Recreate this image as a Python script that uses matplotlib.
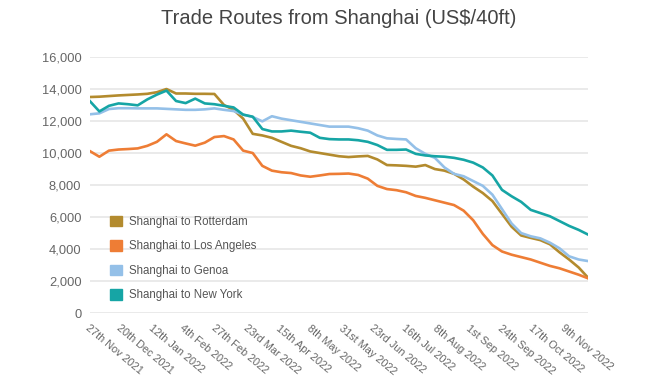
import matplotlib
matplotlib.use('Agg')
import matplotlib.pyplot as plt
from matplotlib.patches import Patch
import pandas as pd

plt.rcParams['font.family'] = ['Liberation Sans', 'DejaVu Sans']

# weekly readings, 27 Nov 2021 -> 26 Nov 2022
dates = pd.date_range('2021-11-27', periods=53, freq='7D')

rotterdam = [13500, 13520, 13560, 13600, 13630, 13660, 13700, 13800, 14000, 13720,
             13720, 13700, 13700, 13690, 13000, 12700, 12150, 11200, 11100, 10950,
             10700, 10450, 10300, 10100, 10000, 9900, 9800, 9750, 9790, 9820,
             9600, 9250, 9230, 9200, 9150, 9250, 9000, 8900, 8700, 8350,
             7900, 7500, 7000, 6200, 5400, 4850, 4700, 4560, 4300, 3800,
             3350, 2850, 2200]
los_angeles = [10125, 9770, 10150, 10220, 10250, 10290, 10450, 10700, 11170, 10750,
               10600, 10460, 10650, 11000, 11060, 10850, 10150, 10000, 9200, 8900,
               8800, 8750, 8600, 8520, 8600, 8690, 8700, 8720, 8630, 8400,
               7950, 7750, 7680, 7550, 7320, 7200, 7050, 6900, 6750, 6400,
               5800, 4950, 4250, 3850, 3650, 3500, 3350, 3150, 2950, 2800,
               2600, 2400, 2170]
genoa = [12420, 12480, 12750, 12800, 12800, 12790, 12790, 12790, 12760, 12730,
         12700, 12700, 12730, 12790, 12700, 12625, 12400, 12250, 11980, 12300,
         12150, 12050, 11950, 11850, 11750, 11650, 11650, 11650, 11550, 11400,
         11100, 10920, 10880, 10850, 10300, 9950, 9700, 9100, 8700, 8550,
         8250, 7950, 7400, 6500, 5600, 5000, 4800, 4670, 4400, 4050,
         3550, 3350, 3250]
new_york = [13250, 12600, 12950, 13100, 13050, 12980, 13350, 13650, 13900, 13250,
            13120, 13400, 13100, 13050, 12950, 12850, 12400, 12270, 11500, 11350,
            11350, 11400, 11330, 11270, 10950, 10870, 10850, 10850, 10800, 10700,
            10500, 10200, 10200, 10220, 9950, 9850, 9800, 9770, 9700, 9580,
            9400, 9100, 8600, 7700, 7300, 6950, 6450, 6250, 6050, 5750,
            5450, 5200, 4900]

tick_dates = ['2021-11-27', '2021-12-20', '2022-01-12', '2022-02-04', '2022-02-27',
              '2022-03-23', '2022-04-15', '2022-05-08', '2022-05-31', '2022-06-23',
              '2022-07-16', '2022-08-08', '2022-09-01', '2022-09-24', '2022-10-17',
              '2022-11-09']
tick_labels = ['27th Nov 2021', '20th Dec 2021', '12th Jan 2022', '4th Feb 2022',
               '27th Feb 2022', '23rd Mar 2022', '15th Apr 2022', '8th May 2022',
               '31st May 2022', '23rd Jun 2022', '16th Jul 2022', '8th Aug 2022',
               '1st Sep 2022', '24th Sep 2022', '17th Oct 2022', '9th Nov 2022']

series = [('Shanghai to Rotterdam', rotterdam, '#b38b2e'),
          ('Shanghai to Los Angeles', los_angeles, '#ee7d35'),
          ('Shanghai to Genoa', genoa, '#94c0e8'),
          ('Shanghai to New York', new_york, '#16a5a5')]

fig = plt.figure(figsize=(6.7, 3.8), dpi=100)
ax = fig.add_axes([0.134, 0.176, 0.744, 0.674])

for name, vals, col in series:
    ax.plot(dates, vals, color=col, linewidth=1.9, solid_joinstyle='round')

ax.set_ylim(0, 16000)
ax.set_xlim(dates[0], dates[-1])
ax.set_yticks(range(0, 16001, 2000))
ax.set_yticklabels([f'{v:,}' for v in range(0, 16001, 2000)])
ax.set_xticks(pd.to_datetime(tick_dates))
ax.set_xticklabels(tick_labels, rotation=-40, ha='left', va='top',
                   rotation_mode='anchor')
ax.tick_params(axis='y', length=0, pad=6, labelsize=9.3, colors='#666666')
ax.tick_params(axis='x', length=0, pad=7, labelsize=7.8, colors='#666666')
ax.grid(axis='y', color='#e8e8e8', linewidth=1.3)
ax.set_axisbelow(True)
for s in ax.spines.values():
    s.set_visible(False)

handles = [Patch(facecolor=c, edgecolor=c) for _, _, c in series]
ax.legend(handles, [n for n, _, _ in series], loc='lower left',
          bbox_to_anchor=(0.02, 0.005), frameon=False, fontsize=8.3,
          handlelength=1.0, handleheight=1.0, labelspacing=1.08,
          handletextpad=0.6, labelcolor='#555555')

fig.text(0.505, 0.95, 'Trade Routes from Shanghai (US$/40ft)', ha='center',
         va='center', fontsize=14.5, color='#444444')

fig.savefig('out.png', dpi=100)
